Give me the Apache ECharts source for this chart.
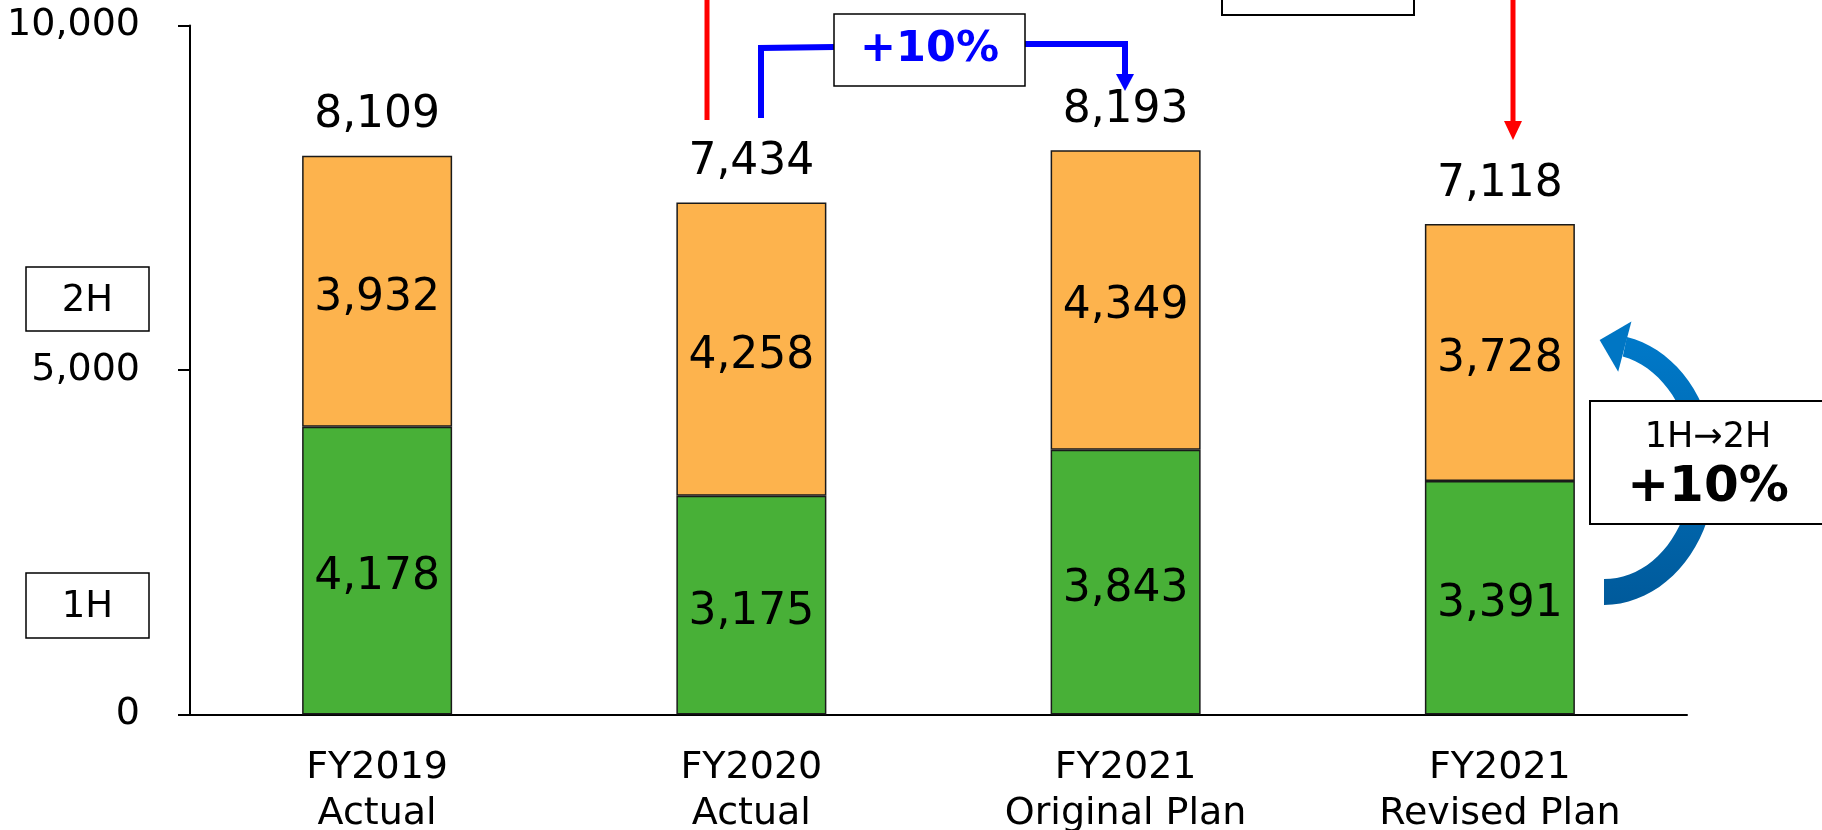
<!DOCTYPE html>
<html>
<head>
    <meta charset="utf-8">
    <title></title>
    <style type="text/css">
        html, body { height: 100%; }
        body { margin: 0; padding: 0; background: #fff; }
        #main { width: 1822px; height: 830px; }
    </style>
</head>
<body>
<div id="main"></div>
<script type="text/javascript" src="https://cdn.jsdelivr.net/npm/echarts@6/dist/echarts.min.js"></script>
<script type="text/javascript">
    // data
    var categories = ['FY2019\nActual', 'FY2020\nActual', 'FY2021\nOriginal Plan', 'FY2021\nRevised Plan'];
    var firstHalf = [4178, 3175, 3843, 3391];
    var secondHalf = [3932, 4258, 4349, 3728];
    var totals = [8109, 7434, 8193, 7118];
    var yTicks = [0, 5000, 10000];

    var FONT = 'DejaVu Sans, Verdana, sans-serif';
    function fmt(v) {
        return Number(v).toLocaleString('en-US');
    }

    // curved blue arrow (1H -> 2H), tapered band along an ellipse
    function curvedArrow() {
        var cx = 1604, cy = 468, rx = 100, ry = 124;
        var t0 = -78 * Math.PI / 180, t1 = 90 * Math.PI / 180;
        var outer = [], inner = [];
        var n = 40;
        for (var i = 0; i <= n; i++) {
            var t = t0 + (t1 - t0) * i / n;
            var w = 20 + 6 * i / n;
            outer.push([cx + (rx + w / 2) * Math.cos(t), cy + (ry + w / 2) * Math.sin(t)]);
            inner.push([cx + (rx - w / 2) * Math.cos(t), cy + (ry - w / 2) * Math.sin(t)]);
        }
        var body = outer.concat(inner.reverse());
        var px = cx + rx * Math.cos(t0), py = cy + ry * Math.sin(t0);
        var dx = rx * Math.sin(t0), dy = -ry * Math.cos(t0);
        var len = Math.sqrt(dx * dx + dy * dy);
        dx /= len; dy /= len;
        var head = [
            [px - dy * 26, py + dx * 26],
            [px + dx * 26, py + dy * 26],
            [px + dy * 26, py - dx * 26]
        ];
        var grad = new echarts.graphic.LinearGradient(0, 0, 0, 1, [
            {offset: 0, color: '#0079C9'},
            {offset: 1, color: '#005A9B'}
        ]);
        return [
            {type: 'polygon', z: 10, shape: {points: body}, style: {fill: grad}},
            {type: 'polygon', z: 10, shape: {points: head}, style: {fill: '#0076C4'}}
        ];
    }

    var myChart = echarts.init(document.getElementById('main'));

    var graphics = [
        // red line and red arrow from top
        {type: 'line', z: 20, shape: {x1: 707, y1: 0, x2: 707, y2: 120}, style: {stroke: '#FF0000', lineWidth: 5}},
        {type: 'line', z: 20, shape: {x1: 1513, y1: 0, x2: 1513, y2: 124}, style: {stroke: '#FF0000', lineWidth: 5}},
        {type: 'polygon', z: 20, shape: {points: [[1504, 121], [1522, 121], [1513, 140]]}, style: {fill: '#FF0000'}},
        {type: 'rect', z: 20, shape: {x: 1222, y: -20, width: 192, height: 35}, style: {fill: '#fff', stroke: '#000', lineWidth: 2}},
        // blue connector FY2020 -> FY2021 original
        {type: 'polyline', z: 20, shape: {points: [[761, 118], [761, 48], [834, 47]]}, style: {stroke: '#0000FF', lineWidth: 6, fill: null}},
        {type: 'polyline', z: 20, shape: {points: [[1025, 44], [1125, 44], [1125, 78]]}, style: {stroke: '#0000FF', lineWidth: 6, fill: null}},
        {type: 'polygon', z: 20, shape: {points: [[1116, 74], [1134, 74], [1125, 91]]}, style: {fill: '#0000FF'}},
        {type: 'rect', z: 21, shape: {x: 834, y: 14, width: 191, height: 72}, style: {fill: '#fff', stroke: '#000', lineWidth: 1.5}},
        {type: 'text', z: 22, x: 929.5, y: 50, style: {text: '+10%', fill: '#0000FF', font: 'bold 43px ' + FONT, align: 'center', verticalAlign: 'middle'}},
        // 2H / 1H labels
        {type: 'rect', z: 20, shape: {x: 26, y: 267, width: 123, height: 64}, style: {fill: '#fff', stroke: '#000', lineWidth: 1.5}},
        {type: 'text', z: 21, x: 87.5, y: 301, style: {text: '2H', fill: '#000', font: '37px ' + FONT, align: 'center', verticalAlign: 'middle'}},
        {type: 'rect', z: 20, shape: {x: 26, y: 573, width: 123, height: 65}, style: {fill: '#fff', stroke: '#000', lineWidth: 1.5}},
        {type: 'text', z: 21, x: 87.5, y: 607.5, style: {text: '1H', fill: '#000', font: '37px ' + FONT, align: 'center', verticalAlign: 'middle'}},
        // right annotation
        {type: 'rect', z: 20, shape: {x: 1590, y: 401, width: 250, height: 123}, style: {fill: '#fff', stroke: '#000', lineWidth: 2}},
        {type: 'text', z: 21, x: 1708, y: 438, style: {text: '1H\u21922H', fill: '#000', font: '35px ' + FONT, align: 'center', verticalAlign: 'middle'}},
        {type: 'text', z: 21, x: 1708, y: 488, style: {text: '+10%', fill: '#000', font: 'bold 50px ' + FONT, align: 'center', verticalAlign: 'middle'}}
    ].concat(curvedArrow());

    var segLabel = {
        show: true, position: 'inside', offset: [0, 7], color: '#000', fontSize: 44, fontFamily: FONT,
        formatter: function (p) { return fmt(p.value); }
    };

    var option = {
        animation: false,
        backgroundColor: '#fff',
        grid: {left: 190, right: 135, top: 25.6, bottom: 115.4, containLabel: false, outerBoundsMode: 'none'},
        xAxis: {
            type: 'category',
            data: categories,
            axisLine: {lineStyle: {color: '#000', width: 2}},
            axisTick: {show: false},
            axisLabel: {color: '#000', fontSize: 38, lineHeight: 46, margin: 31, fontFamily: FONT}
        },
        yAxis: {
            type: 'value',
            min: yTicks[0],
            max: yTicks[yTicks.length - 1],
            interval: yTicks[1] - yTicks[0],
            axisLine: {show: true, lineStyle: {color: '#000', width: 2}},
            axisTick: {show: true, length: 12, lineStyle: {color: '#000', width: 2}},
            splitLine: {show: false},
            axisLabel: {color: '#000', fontSize: 38, margin: 50, fontFamily: FONT, formatter: fmt}
        },
        series: [
            {
                name: 'Total',
                type: 'bar',
                barWidth: 150,
                barGap: '-100%',
                data: totals,
                z: 1,
                itemStyle: {color: 'rgba(255,255,255,0)', borderWidth: 0},
                label: {show: true, position: 'top', distance: 18, color: '#000', fontSize: 44, fontFamily: FONT, formatter: function (p) { return fmt(p.value); }}
            },
            {
                name: '1H',
                type: 'bar',
                stack: 'total',
                barWidth: 150,
                barGap: '-100%',
                data: firstHalf,
                z: 3,
                itemStyle: {color: '#48B037', borderColor: '#1a1a1a', borderWidth: 1.5},
                label: segLabel
            },
            {
                name: '2H',
                type: 'bar',
                stack: 'total',
                barWidth: 150,
                barGap: '-100%',
                data: secondHalf,
                z: 3,
                itemStyle: {color: '#FDB34D', borderColor: '#1a1a1a', borderWidth: 1.5},
                label: segLabel
            }
        ],
        graphic: graphics
    };

    myChart.setOption(option);
</script>
</body>
</html>
